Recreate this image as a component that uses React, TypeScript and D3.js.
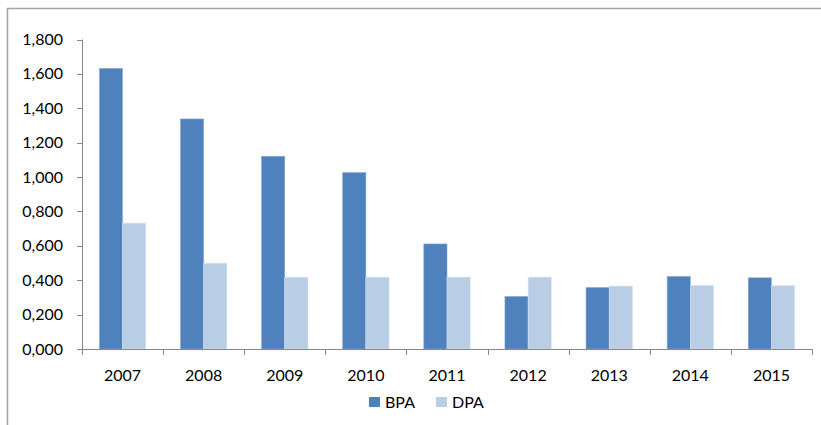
import React from "react";
import * as d3 from "d3";

const years = ["2007", "2008", "2009", "2010", "2011", "2012", "2013", "2014", "2015"];
const bpa = [1.632, 1.338, 1.121, 1.026, 0.611, 0.306, 0.358, 0.422, 0.414];
const dpa = [0.732, 0.499, 0.418, 0.418, 0.418, 0.418, 0.366, 0.37, 0.368];
const yTicks = [0, 0.2, 0.4, 0.6, 0.8, 1.0, 1.2, 1.4, 1.6, 1.8];
const seriesNames = ["BPA", "DPA"];
const seriesColors = ["#4F81BD", "#B9CDE5"];

const W = 821;
const H = 425;
const plot = { left: 82, right: 812, top: 39.5, bottom: 349 };
const font = "Lato, 'Open Sans', sans-serif";
const axisColor = "#878787";

// Decimal comma with three decimals: 1.8 -> "1,800"
const tickText = (v: number) => v.toFixed(3).replace(".", ",");

export default function App() {
  const x = d3.scaleBand<string>().domain(years).range([plot.left, plot.right]);
  const y = d3.scaleLinear().domain([0, 1.8]).range([plot.bottom, plot.top]);
  const band = x.bandwidth();
  const barW = band / 3.5;
  const offset = (band - 2 * barW) / 2;
  const series = [bpa, dpa];

  return (
    <svg width={W} height={H} style={{ position: "absolute", left: 0, top: 0, background: "#fff" }}>
      <rect x={7.5} y={8.5} width={W + 20} height={H + 20} fill="#fff" stroke="#A3A3A3" strokeWidth={1.5} />
      {/* bars */}
      {series.map((vals, si) =>
        years.map((yr, i) => {
          const x0 = (x(yr) as number) + offset + si * barW;
          const y0 = y(vals[i]);
          return (
            <rect
              key={`${si}-${yr}`}
              x={x0}
              y={y0}
              width={barW}
              height={plot.bottom - y0}
              fill={seriesColors[si]}
              stroke={si === 0 ? "#8DA9D3" : "#D6E2F0"}
              strokeWidth={0.6}
            />
          );
        })
      )}
      {/* y axis */}
      <line x1={plot.left + 0.5} x2={plot.left + 0.5} y1={plot.top} y2={plot.bottom} stroke={axisColor} />
      {yTicks.map((t) => (
        <g key={t}>
          <line x1={plot.left - 5} x2={plot.left} y1={Math.round(y(t)) + 0.5} y2={Math.round(y(t)) + 0.5} stroke={axisColor} />
          <text x={plot.left - 19} y={y(t)} dy="0.35em" textAnchor="end" fontFamily={font} fontSize={16} fill="#000">
            {tickText(t)}
          </text>
        </g>
      ))}
      {/* x axis */}
      <line x1={plot.left} x2={plot.right} y1={plot.bottom + 0.5} y2={plot.bottom + 0.5} stroke={axisColor} />
      {[...years.map((yr) => x(yr) as number), plot.right].map((px, i) => (
        <line key={i} x1={Math.round(px) + 0.5} x2={Math.round(px) + 0.5} y1={plot.bottom} y2={plot.bottom + 6} stroke={axisColor} />
      ))}
      {years.map((yr) => (
        <text key={yr} x={(x(yr) as number) + band / 2} y={381} textAnchor="middle" fontFamily={font} fontSize={16} fill="#000">
          {yr}
        </text>
      ))}
      {/* legend */}
      {seriesNames.map((n, i) => {
        const lx = 369 + i * 67;
        return (
          <g key={n}>
            <rect x={lx} y={397} width={11} height={10} fill={seriesColors[i]} />
            <text x={lx + 16} y={408} fontFamily={font} fontSize={16} fill="#000">
              {n}
            </text>
          </g>
        );
      })}
    </svg>
  );
}
